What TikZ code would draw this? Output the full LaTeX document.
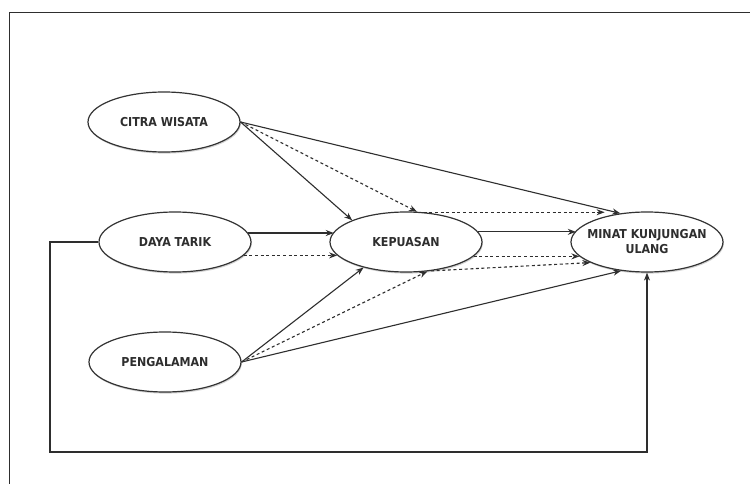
\documentclass[tikz,border=0pt]{standalone}
\usepackage{fontspec}
\setmainfont{DejaVu Sans Condensed}
\usetikzlibrary{shapes.geometric,arrows.meta,shadows}
\definecolor{ink}{HTML}{2E2E2E}
\definecolor{edge}{HTML}{333333}
\tikzset{
  construct/.style={ellipse, draw=edge, line width=1.2pt, fill=white,
    inner sep=0pt, minimum width=152pt, minimum height=60pt,
    drop shadow={shadow xshift=0.8pt, shadow yshift=-1.6pt, opacity=0.35}},
  lbl/.style={font=\bfseries\fontsize{12.3}{15}\selectfont, text=ink, align=center, inner sep=0pt},
  direct/.style={draw=ink, line width=1.1pt, -{Stealth[length=8pt,width=6pt]}},
  indirect/.style={draw=ink, line width=1.1pt, dash pattern=on 3pt off 2.6pt, -{Stealth[length=8pt,width=6pt]}},
  frameline/.style={draw=ink, line width=1.1pt}
}
\begin{document}
\begin{tikzpicture}[x=1pt,y=-1pt]
\useasboundingbox (0,0) rectangle (750,484);
\fill[white] (0,0) rectangle (750,484);
% outer frame (only top and left edges visible)
\draw[frameline] (9.5,484) -- (9.5,12.7) -- (750,12.7);

% constructs
\node[construct, label={[lbl]center:CITRA WISATA}] (cw) at (164,122) {};
\node[construct, label={[lbl]center:DAYA TARIK}] (dt) at (175,242) {};
\node[construct, label={[lbl]center:PENGALAMAN}] (pg) at (165,362) {};
\node[construct, label={[lbl]center:KEPUASAN}] (kp) at (406,242) {};
\node[construct, label={[lbl]center:MINAT KUNJUNGAN\\ULANG}] (mk) at (647,242) {};

% feedback loop from DAYA TARIK to MINAT KUNJUNGAN ULANG
\coordinate (c1) at (50,242);
\coordinate (c2) at (50,452);
\coordinate (c3) at (647,452);
\draw[direct] (dt.west) -- (c1) -- (c2) -- (c3) -- (mk.south);

% citra wisata
\draw[direct] (cw.east) -- (kp.158.6);
\draw[indirect] (cw.east) -- (kp.70.6);
\draw[direct] (cw.east) -- (mk.133);

% daya tarik
\draw[direct] (dt.7.95) -- (kp.172.05 |- dt.7.95);
\draw[indirect] (dt.-11.8) -- (kp.191.8 |- dt.-11.8);

% pengalaman
\draw[direct] (pg.east) -- (kp.211);
\draw[indirect] (pg.east) -- (kp.306);
\draw[direct] (pg.east) -- (mk.228);

% kepuasan to minat
\draw[indirect] (kp.59.6) -- (mk.149.9 |- kp.59.6);
\draw[direct] (kp.8.85) -- (mk.171.15 |- kp.8.85);
\draw[indirect] (kp.-12.8) -- (mk.192.8 |- kp.-12.8);
\draw[indirect] (kp.-49.8) -- (mk.200.2);
\end{tikzpicture}
\end{document}
